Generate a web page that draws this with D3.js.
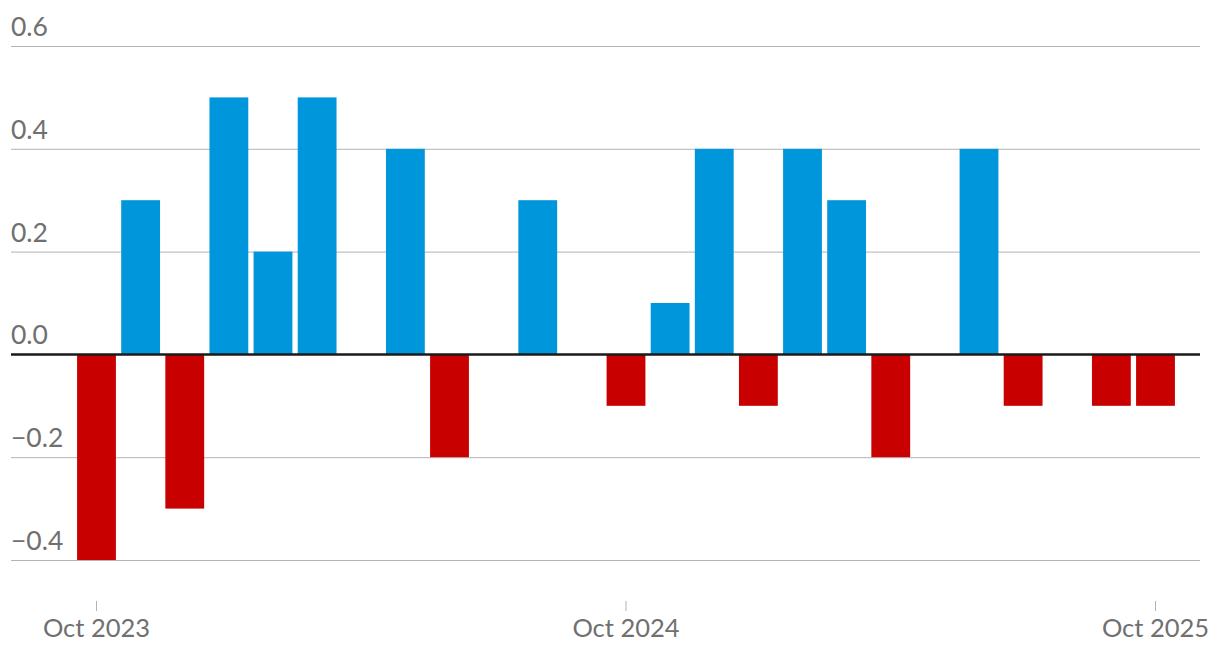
<!DOCTYPE html>
<html>
<head>
<meta charset="utf-8">
<script src="https://cdn.jsdelivr.net/npm/d3@7"></script>
<style>
html,body{margin:0;padding:0;background:#fff;}
svg text{font-family:"Lato","Open Sans",sans-serif;}
</style>
</head>
<body>
<svg id="chart" width="1220" height="666"></svg>
<script>
const months = ["2023-10","2023-11","2023-12","2024-01","2024-02","2024-03","2024-04","2024-05","2024-06","2024-07","2024-08","2024-09","2024-10","2024-11","2024-12","2025-01","2025-02","2025-03","2025-04","2025-05","2025-06","2025-07","2025-08","2025-09","2025-10"];
const values = [-0.4,0.3,-0.3,0.5,0.2,0.5,0,0.4,-0.2,0,0.3,0,-0.1,0.1,0.4,-0.1,0.4,0.3,-0.2,0,0.4,-0.1,0,-0.1,-0.1];
const yTicks = [-0.4,-0.2,0,0.2,0.4,0.6];
const xTicks = ["2023-10","2024-10","2025-10"];
const xTickLabels = ["Oct 2023","Oct 2024","Oct 2025"];

const svg = d3.select("#chart");
const step = (1155.5-96.5)/(months.length-1);
const x = d3.scaleBand().domain(months)
  .range([96.5-step/2, 1155.5+step/2]).paddingInner(0.12).paddingOuter(0.06);
const y = d3.scaleLinear().domain([-0.4,0.6]).range([560,46]);

const gridLeft = 11, gridRight = 1200;
const fmt = v => (v<0 ? "\u2212" : "") + Math.abs(v).toFixed(1);

// gridlines
const yAxis = svg.append("g").attr("class","y-axis");
yAxis.selectAll("line").data(yTicks.filter(d=>d!==0)).join("line")
  .attr("x1",gridLeft).attr("x2",gridRight)
  .attr("y1",d=>y(d)+0.5).attr("y2",d=>y(d)+0.5)
  .attr("stroke","#b3b3b3").attr("stroke-width",1);
yAxis.selectAll("text").data(yTicks).join("text")
  .attr("x",gridLeft).attr("y",d=>y(d)-10)
  .attr("fill","#707070").attr("font-size",26.5)
  .text(fmt);

// bars
svg.append("g").selectAll("rect").data(months.map((m,i)=>({m,v:values[i]})).filter(d=>d.v!==0)).join("rect")
  .attr("x",d=>x(d.m)).attr("width",x.bandwidth())
  .attr("y",d=>y(Math.max(0,d.v))).attr("height",d=>Math.abs(y(d.v)-y(0)))
  .attr("fill",d=>d.v>0?"#0096db":"#c80000");

// zero line
svg.append("line").attr("x1",gridLeft).attr("x2",gridRight)
  .attr("y1",y(0)).attr("y2",y(0)).attr("stroke","#1a1a1a").attr("stroke-width",2.5);

// x axis
const xAxis = d3.axisBottom(x).tickValues(xTicks)
  .tickFormat(d=>xTickLabels[xTicks.indexOf(d)]).tickSize(10).tickPadding(8);
const gx = svg.append("g").attr("transform","translate(0,601)").call(xAxis);
gx.select(".domain").remove();
gx.selectAll(".tick line").attr("stroke","#b3b3b3");
gx.selectAll(".tick text").attr("fill","#707070").attr("font-size",25.5)
  .style("font-family","Lato, 'Open Sans', sans-serif");
</script>
</body>
</html>
